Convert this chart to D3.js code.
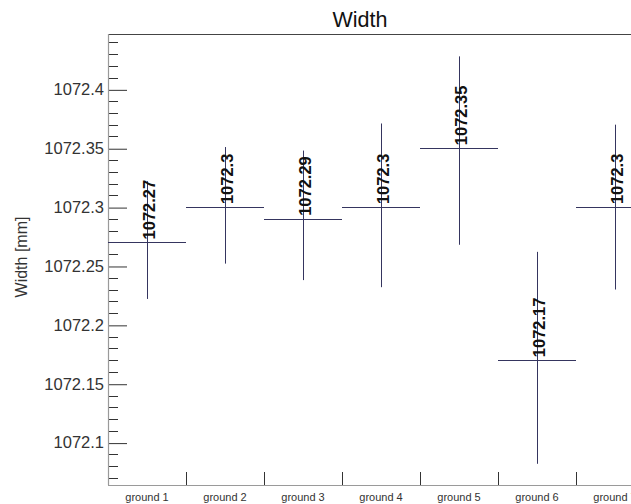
<!DOCTYPE html>
<html>
<head>
<meta charset="utf-8">
<script src="https://cdn.jsdelivr.net/npm/d3@7/dist/d3.min.js"></script>
<style>
  html, body { margin: 0; padding: 0; background: #fff; overflow: hidden; }
  svg { display: block; font-family: "Liberation Sans", Arial, sans-serif; }
</style>
</head>
<body>
<svg id="chart" width="631" height="504"></svg>
<script>
// Group names along the x axis
const categories = ["ground 1", "ground 2", "ground 3", "ground 4", "ground 5", "ground 6", "ground 7"];
// Mean width per group (mm)
const means = [1072.27, 1072.30, 1072.29, 1072.30, 1072.35, 1072.17, 1072.30];
// Lower and upper ends of each group's range (mm)
const lows  = [1072.222, 1072.252, 1072.238, 1072.232, 1072.268, 1072.082, 1072.230];
const highs = [1072.322, 1072.351, 1072.348, 1072.371, 1072.428, 1072.262, 1072.370];
// Labelled y ticks
const yTicks = [1072.1, 1072.15, 1072.2, 1072.25, 1072.3, 1072.35, 1072.4];

const svg = d3.select("#chart");
const plotLeft = 108, plotRight = 654, plotTop = 34, plotBottom = 485;
const lineColor = "#35355f";

const x = d3.scaleBand().domain(categories).range([plotLeft, plotRight]).padding(0);
const y = d3.scaleLinear().domain([1072.064, 1072.447]).range([plotBottom, plotTop]);

// Top border
svg.append("line").attr("x1", plotLeft).attr("x2", 631).attr("y1", plotTop + 0.5).attr("y2", plotTop + 0.5)
  .attr("stroke", "#444").attr("stroke-width", 1);

// Minor ticks every 0.01
const minor = d3.range(1072.07, 1072.445, 0.01).map(v => +v.toFixed(2))
  .filter(v => !yTicks.some(t => Math.abs(t - v) < 1e-6));
svg.append("g").selectAll("line").data(minor).join("line")
  .attr("x1", plotLeft).attr("x2", plotLeft + 10)
  .attr("y1", d => Math.round(y(d)) + 0.5).attr("y2", d => Math.round(y(d)) + 0.5)
  .attr("stroke", "#333").attr("stroke-width", 1);

// Major y axis: ticks drawn inward with labels on the left
const yAxis = d3.axisLeft(y).tickValues(yTicks).tickSize(0).tickPadding(4)
  .tickFormat(d => d3.format("")(+d.toFixed(2)));
const gy = svg.append("g").attr("transform", `translate(${plotLeft},0)`).call(yAxis);
gy.select(".domain").remove();
gy.selectAll(".tick text").attr("font-size", 16.5).attr("fill", "#333")
  .attr("font-family", "Liberation Sans, Arial, sans-serif");
gy.selectAll(".tick").append("line")
  .attr("x1", 0).attr("x2", 19).attr("y1", 0.5).attr("y2", 0.5)
  .attr("stroke", "#333").attr("stroke-width", 1);

svg.append("line").attr("x1", plotLeft + 0.5).attr("x2", plotLeft + 0.5).attr("y1", plotTop).attr("y2", plotBottom)
  .attr("stroke", "#9a9a9a").attr("stroke-width", 1.2);

// Bottom axis with separators between groups
const xAxis = d3.axisBottom(x).tickSize(0).tickPadding(8);
const gx = svg.append("g").attr("transform", `translate(0,${plotBottom})`).call(xAxis);
gx.select(".domain").remove();
gx.selectAll(".tick text").attr("font-size", 11).attr("fill", "#333")
  .attr("font-family", "Liberation Sans, Arial, sans-serif");
svg.append("line").attr("x1", plotLeft).attr("x2", 631).attr("y1", plotBottom + 0.5).attr("y2", plotBottom + 0.5)
  .attr("stroke", "#9a9a9a").attr("stroke-width", 1.2);
svg.append("g").selectAll("line").data(categories.slice(1)).join("line")
  .attr("x1", d => Math.round(x(d)) + 0.5).attr("x2", d => Math.round(x(d)) + 0.5)
  .attr("y1", plotBottom).attr("y2", plotBottom - 13)
  .attr("stroke", "#333").attr("stroke-width", 1);

// Range lines and mean markers
const g = svg.append("g");
categories.forEach((c, i) => {
  const cx = Math.round(x(c) + x.bandwidth() / 2) + 0.5;
  g.append("line").attr("x1", cx).attr("x2", cx)
    .attr("y1", y(highs[i])).attr("y2", y(lows[i]))
    .attr("stroke", lineColor).attr("stroke-width", 1);
  g.append("line").attr("x1", x(c)).attr("x2", x(c) + x.bandwidth())
    .attr("y1", Math.round(y(means[i])) + 0.5).attr("y2", Math.round(y(means[i])) + 0.5)
    .attr("stroke", lineColor).attr("stroke-width", 1);
  g.append("text")
    .attr("transform", `translate(${cx + 7},${y(means[i]) - 3}) rotate(-90)`)
    .attr("font-size", 16.5).attr("font-weight", "bold").attr("fill", "#111")
    .text(d3.format("")(+means[i].toFixed(2)));
});

// Title and axis title
svg.append("text").attr("x", 360).attr("y", 27).attr("text-anchor", "middle")
  .attr("font-size", 21.5).attr("fill", "#111").text("Width");
svg.append("text").attr("transform", `translate(27,257) rotate(-90)`)
  .attr("text-anchor", "middle").attr("font-size", 16).attr("fill", "#333").text("Width [mm]");
</script>
</body>
</html>
